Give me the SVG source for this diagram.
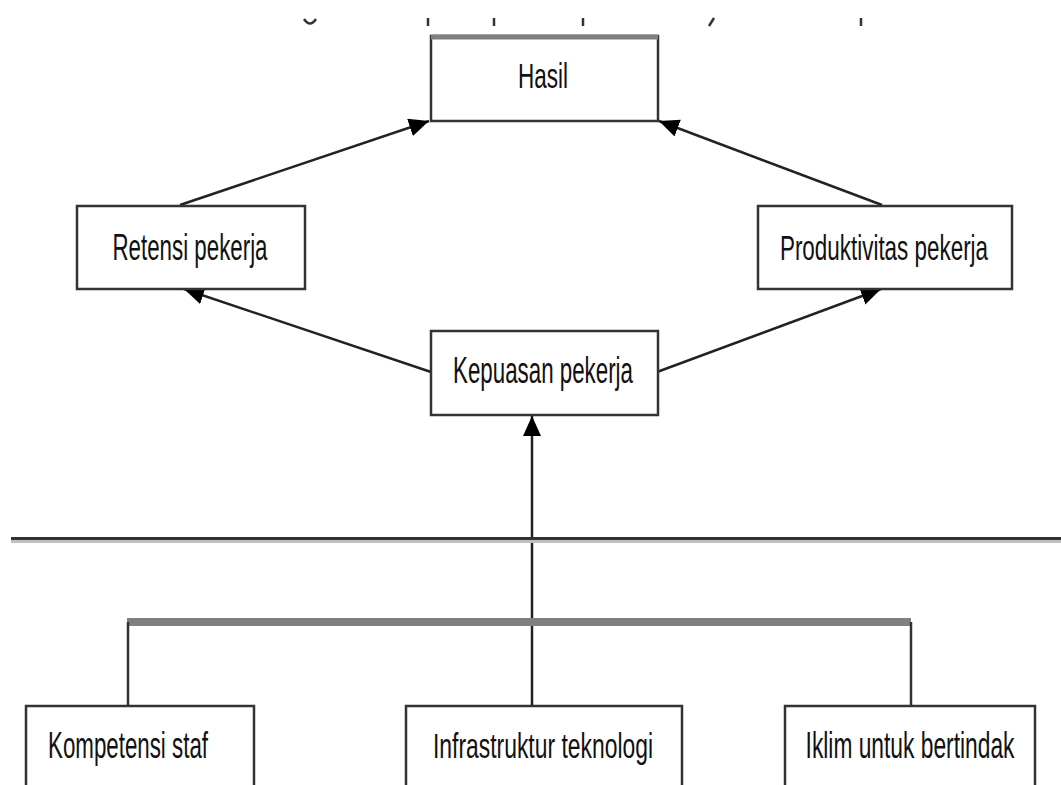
<svg xmlns="http://www.w3.org/2000/svg" width="1061" height="785" viewBox="0 0 1061 785">
  <defs>
    <style>
      .box { fill: #ffffff; stroke: #333333; stroke-width: 2.5; }
      .lbl { font-family: "Liberation Sans", Arial, sans-serif; font-size: 36px; fill: #111111; text-anchor: middle; }
      .con { stroke: #222222; stroke-width: 2.5; fill: none; }
      .bus { stroke: #808080; stroke-width: 8; fill: none; }
      .drop { stroke: #333333; stroke-width: 2.5; fill: none; }
      .frag { stroke: #333333; stroke-width: 2.5; fill: none; }
    </style>
    <marker id="arrow" markerUnits="userSpaceOnUse" markerWidth="22" markerHeight="20" refX="20" refY="9" orient="auto">
      <path d="M0,0 L20,9 L0,18 Z" fill="#000000"/>
    </marker>
  </defs>
  <rect width="1061" height="785" fill="#ffffff"/>

  <g id="caption-fragments">
    <path class="frag" d="M304,19 Q310,28 316,19"/>
    <line class="frag" x1="428" y1="18" x2="428" y2="26"/>
    <line class="frag" x1="494" y1="18" x2="494" y2="26"/>
    <line class="frag" x1="583" y1="18" x2="583" y2="26"/>
    <line class="frag" x1="714" y1="18" x2="709" y2="26"/>
    <line class="frag" x1="861" y1="18" x2="861" y2="26"/>
  </g>

  <g id="connectors">
    <line class="con" x1="180" y1="205" x2="429" y2="121" marker-end="url(#arrow)"/>
    <line class="con" x1="882" y1="205" x2="659" y2="121" marker-end="url(#arrow)"/>
    <line class="con" x1="431" y1="372" x2="184" y2="289" marker-end="url(#arrow)"/>
    <line class="con" x1="657" y1="372" x2="881" y2="289" marker-end="url(#arrow)"/>
    <line class="con" x1="532" y1="705" x2="532" y2="416" marker-end="url(#arrow)" stroke="#555555"/>
    <line class="bus" x1="127" y1="622" x2="911" y2="622"/>
    <line class="drop" x1="128" y1="622" x2="128" y2="705"/>
    <line class="drop" x1="911" y1="622" x2="911" y2="705"/>
  </g>

  <g id="divider">
    <line x1="11" y1="538.5" x2="1061" y2="538.5" stroke="#333333" stroke-width="3"/>
    <line x1="11" y1="541.5" x2="1061" y2="541.5" stroke="#c0c0c0" stroke-width="3"/>
  </g>

  <g id="hasil">
    <rect class="box" x="431" y="36" width="227" height="85"/>
    <line x1="431" y1="37" x2="658" y2="37" stroke="#808080" stroke-width="5"/>
    <text class="lbl" transform="translate(543,88) scale(0.625,1)">Hasil</text>
  </g>

  <g id="retensi">
    <rect class="box" x="77" y="206" width="228" height="83"/>
    <text class="lbl" transform="translate(190,260) scale(0.62,1)">Retensi pekerja</text>
  </g>

  <g id="produktivitas">
    <rect class="box" x="758" y="206" width="254" height="83"/>
    <text class="lbl" transform="translate(884,260) scale(0.623,1)">Produktivitas pekerja</text>
  </g>

  <g id="kepuasan">
    <rect class="box" x="431" y="331" width="227" height="84"/>
    <text class="lbl" transform="translate(543,383) scale(0.62,1)">Kepuasan pekerja</text>
  </g>

  <g id="kompetensi">
    <rect class="box" x="26" y="706" width="228" height="100"/>
    <text class="lbl" transform="translate(128,758) scale(0.62,1)">Kompetensi staf</text>
  </g>

  <g id="infrastruktur">
    <rect class="box" x="406" y="706" width="276" height="100"/>
    <text class="lbl" transform="translate(543,758) scale(0.636,1)">Infrastruktur teknologi</text>
  </g>

  <g id="iklim">
    <rect class="box" x="785" y="706" width="250" height="100"/>
    <text class="lbl" transform="translate(910,758) scale(0.633,1)">Iklim untuk bertindak</text>
  </g>
</svg>
